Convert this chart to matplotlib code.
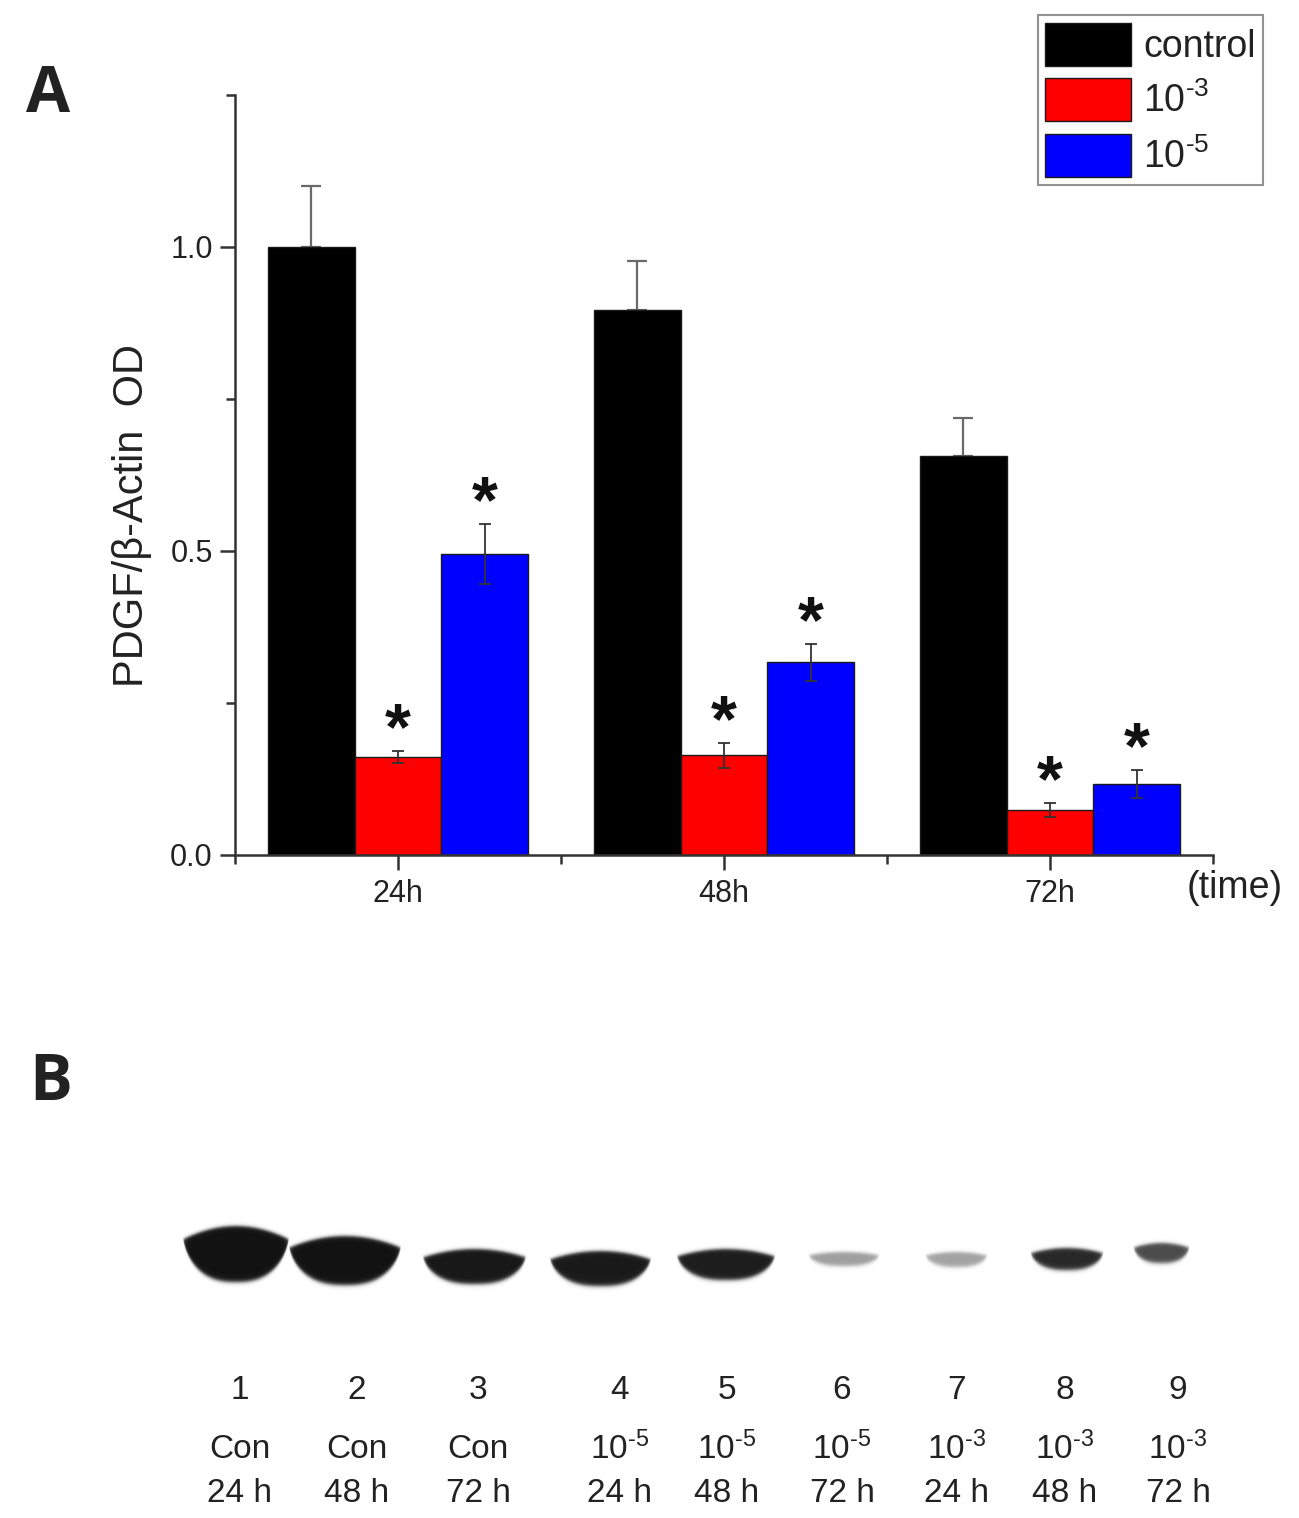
import numpy as np
import matplotlib
matplotlib.use('Agg')
import matplotlib.pyplot as plt
from matplotlib import font_manager
from matplotlib.ticker import MultipleLocator
from matplotlib.patches import Patch

# ---- panel A: PDGF / beta-actin OD ----
times = ['24h', '48h', '72h']
series_labels = ['control', '10$^{\\text{-3}}$', '10$^{\\text{-5}}$']
control_mean = [1.000, 0.897, 0.657]
control_err = [0.100, 0.080, 0.062]
dose3_mean = [0.161, 0.164, 0.074]
dose3_err = [0.010, 0.021, 0.011]
dose5_mean = [0.495, 0.317, 0.117]
dose5_err = [0.050, 0.030, 0.023]
dose3_signif = [True, True, True]
dose5_signif = [True, True, True]

# ---- panel B: western blot lanes ----
lane_numbers = ['1', '2', '3', '4', '5', '6', '7', '8', '9']
lane_treat = ['Con', 'Con', 'Con', '10$^{\\text{-5}}$', '10$^{\\text{-5}}$', '10$^{\\text{-5}}$',
              '10$^{\\text{-3}}$', '10$^{\\text{-3}}$', '10$^{\\text{-3}}$']
lane_time = ['24 h', '48 h', '72 h', '24 h', '48 h', '72 h', '24 h', '48 h', '72 h']
band_density = [0.97, 0.97, 0.95, 0.94, 0.93, 0.40, 0.38, 0.88, 0.74]

# layout (figure pixels)
lane_label_x = [240, 357, 478, 620, 727, 842, 957, 1065, 1178]
band_box = [(182, 290, 1226, 1282), (288, 402, 1236, 1285), (422, 527, 1249, 1284),
            (549, 652, 1251, 1286), (676, 776, 1249, 1280), (808, 880, 1252, 1266),
            (925, 988, 1252, 1267), (1030, 1104, 1248, 1270), (1133, 1190, 1243, 1263)]

names = set(font_manager.get_font_names())
base = 'Liberation Sans' if 'Liberation Sans' in names else 'DejaVu Sans'
plt.rcParams['font.family'] = [base, 'DejaVu Sans']
plt.rcParams['mathtext.fontset'] = 'custom'
plt.rcParams['mathtext.rm'] = base
plt.rcParams['mathtext.it'] = base
plt.rcParams['mathtext.sf'] = base
letter_font = 'Open Sans' if 'Open Sans' in names else base

W, H = 1299, 1518
fig = plt.figure(figsize=(W / 100, H / 100), dpi=100)
txt = '#222222'
axc = '#333333'

ax = fig.add_axes([235 / W, 1 - 855 / H, (1213 - 235) / W, (855 - 95) / H])
x = np.arange(1, len(times) + 1)
bw = 0.8 / 3
colors = ['#000000', '#ff0000', '#0000ff']
means = [control_mean, dose3_mean, dose5_mean]
errs = [control_err, dose3_err, dose5_err]
for i, (m, e, c) in enumerate(zip(means, errs, colors)):
    xi = x + (i - 1) * bw
    ax.bar(xi, m, width=bw, color=c, edgecolor='#1a1a1a', linewidth=1.0, zorder=2)
    if i == 0:
        # lower half is hidden inside the black bar
        ax.errorbar(xi, m, yerr=[np.zeros(len(e)), e], fmt='none', ecolor='#6a6a6a',
                    elinewidth=1.6, capsize=7, capthick=1.6, zorder=1.5)
    else:
        ax.errorbar(xi, m, yerr=e, fmt='none', ecolor='#333333', elinewidth=1.3,
                    capsize=4, capthick=1.3, zorder=3)

for i, (m, e, sig) in enumerate([(dose3_mean, dose3_err, dose3_signif),
                                 (dose5_mean, dose5_err, dose5_signif)]):
    xi = x + i * bw
    for xx, mm, ee, s in zip(xi, m, e, sig):
        if s:
            ax.text(xx, mm + ee - 0.02, '*', ha='center', va='bottom',
                    fontsize=48, fontweight='bold', color='#111111')

ax.set_xlim(0.5, 3.5)
ax.set_ylim(0, 1.25)
ax.spines['top'].set_visible(False)
ax.spines['right'].set_visible(False)
for s in ['left', 'bottom']:
    ax.spines[s].set_linewidth(1.8)
    ax.spines[s].set_color(axc)
ax.set_xticks(x)
ax.set_xticklabels(times)
ax.xaxis.set_minor_locator(MultipleLocator(1.0, offset=0.5))
ax.set_yticks([0.0, 0.5, 1.0])
ax.set_yticklabels(['0.0', '0.5', '1.0'])
ax.yaxis.set_minor_locator(MultipleLocator(0.25))
ax.tick_params(which='major', direction='out', length=11, width=1.8, color=axc,
               labelsize=22, labelcolor=txt, pad=5)
ax.tick_params(which='minor', direction='out', length=6.5, width=1.8, color=axc)
ax.tick_params(axis='x', which='major', pad=6)
ax.set_ylabel('PDGF/\u03b2-Actin  OD', fontsize=30, color=txt)
ax.yaxis.set_label_coords(-0.085, 0.447)

handles = [Patch(facecolor=c, edgecolor='#1a1a1a', linewidth=1.0) for c in colors]
leg = fig.legend(handles, series_labels, loc='upper right',
                 bbox_to_anchor=(1263 / W, 1 - 15 / H), fontsize=27,
                 frameon=True, fancybox=False, edgecolor='#777777',
                 handlelength=2.29, handleheight=1.39, handletextpad=0.32,
                 labelspacing=0.34, borderpad=0.2, borderaxespad=0)
leg.get_frame().set_linewidth(1.5)
for t in leg.get_texts():
    t.set_color(txt)

fig.text(1235 / W, 1 - 888 / H, '(time)', ha='center', va='center', fontsize=27, color=txt)
fig.text(48 / W, 1 - 95 / H, 'A', ha='center', va='center', fontsize=46,
         fontweight='bold', family=letter_font, color='#222222')
fig.text(51 / W, 1 - 1083 / H, 'B', ha='center', va='center', fontsize=46,
         fontweight='bold', family=letter_font, color='#222222')

# ---- panel B ----
axb = fig.add_axes([0, 0, 1, (H - 1180) / H])
axb.set_axis_off()
x0, x1, y0, y1 = 150, 1250, 1200, 1320
xs = np.arange(x0, x1) + 0.5
ys = np.arange(y0, y1) + 0.5
X, Y = np.meshgrid(xs, ys)
img = np.zeros_like(X)


def smooth(z):
    return 0.5 * (1 + np.tanh(z))


for (l, r, t, b), d in zip(band_box, band_density):
    cx = (l + r) / 2
    a = (r - l) / 2
    u = np.clip((X - cx) / a, -1, 1)
    top = t + 0.25 * (b - t) * u ** 2
    bot = t + (b - t) * np.sqrt(np.clip(1 - np.abs(u) ** 2.5, 0, 1))
    dens = d * smooth((a - np.abs(X - cx)) / 3.0) * smooth((Y - top) / 2.0) * smooth((bot - Y) / 2.5)
    img = np.maximum(img, dens)

axb.imshow(img, cmap='gray_r', vmin=0, vmax=1.05, extent=(x0, x1, y1, y0),
           interpolation='bilinear', aspect='auto')
axb.set_xlim(0, W)
axb.set_ylim(H, 1180)

for lx, n, tr, tm in zip(lane_label_x, lane_numbers, lane_treat, lane_time):
    axb.text(lx, 1390, n, ha='center', va='center', fontsize=24, color=txt)
    axb.text(lx, 1449, tr, ha='center', va='center', fontsize=24, color=txt)
    axb.text(lx, 1493, tm, ha='center', va='center', fontsize=24, color=txt)

fig.savefig('out.png', dpi=100)
